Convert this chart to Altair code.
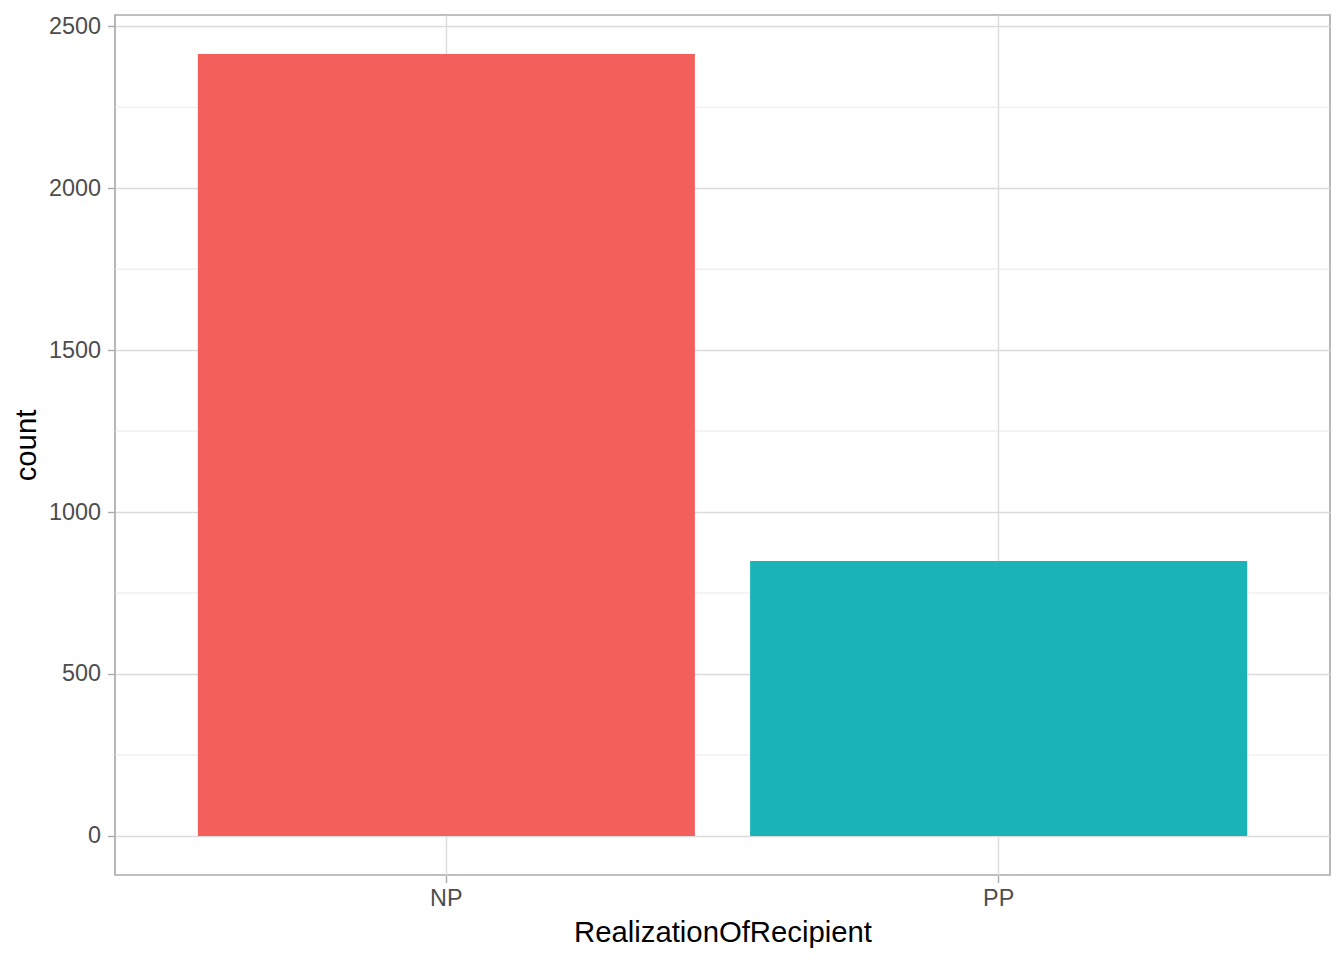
import altair as alt
import pandas as pd

# counts of RealizationOfRecipient
categories = ["NP", "PP"]
counts = [2414, 849]
fills = ["#F35F5B", "#1AB3B8"]

major_breaks = [0, 500, 1000, 1500, 2000, 2500]
minor_breaks = [250, 750, 1250, 1750, 2250]

bars_df = pd.DataFrame({"RealizationOfRecipient": categories, "count": counts})
minor_df = pd.DataFrame({"minor": minor_breaks})

W, H = 1215, 860
FONT = "Liberation Sans"
y_scale = alt.Scale(domain=[-120.7, 2534.7], nice=False, zero=False)
y_axis = alt.Axis(
    values=major_breaks,
    format="d",
    labelPadding=7,
    titleX=-80,
    titleY=H / 2,
    titleBaseline="alphabetic",
)

minor_grid = (
    alt.Chart(minor_df)
    .mark_rule(color="#E6E6E6", strokeWidth=0.9)
    .encode(y=alt.Y("minor:Q", scale=y_scale, axis=y_axis, title="count"))
)

bars = (
    alt.Chart(bars_df)
    .mark_bar()
    .encode(
        x=alt.X(
            "RealizationOfRecipient:N",
            scale=alt.Scale(paddingInner=0.1, paddingOuter=0.15),
            axis=alt.Axis(
                labelAngle=0,
                grid=True,
                bandPosition=0.5,
                labelPadding=5,
                titleX=W / 2,
                titleY=66,
                titleBaseline="alphabetic",
            ),
        ),
        y=alt.Y("count:Q", scale=y_scale, axis=y_axis, title="count"),
        color=alt.Color(
            "RealizationOfRecipient:N",
            scale=alt.Scale(domain=categories, range=fills),
            legend=None,
        ),
    )
)

chart = (
    alt.layer(minor_grid, bars)
    .properties(
        width=W,
        height=H,
        autosize="none",
        padding={"left": 107, "top": 7, "right": 4, "bottom": 76},
    )
    .configure_view(stroke="#ABABAB", strokeWidth=1.7)
    .configure_axis(
        domain=False,
        gridColor="#DBDBDB",
        gridWidth=1.4,
        tickColor="#ABABAB",
        tickWidth=1.4,
        tickSize=7.5,
        labelFont=FONT,
        labelFontSize=23.4,
        labelColor="#4D4D4D",
        titleFont=FONT,
        titleFontSize=29.3,
        titleFontWeight="normal",
        titleColor="#000000",
    )
)

chart.save("out.html", embed_options={"renderer": "svg", "actions": False})
